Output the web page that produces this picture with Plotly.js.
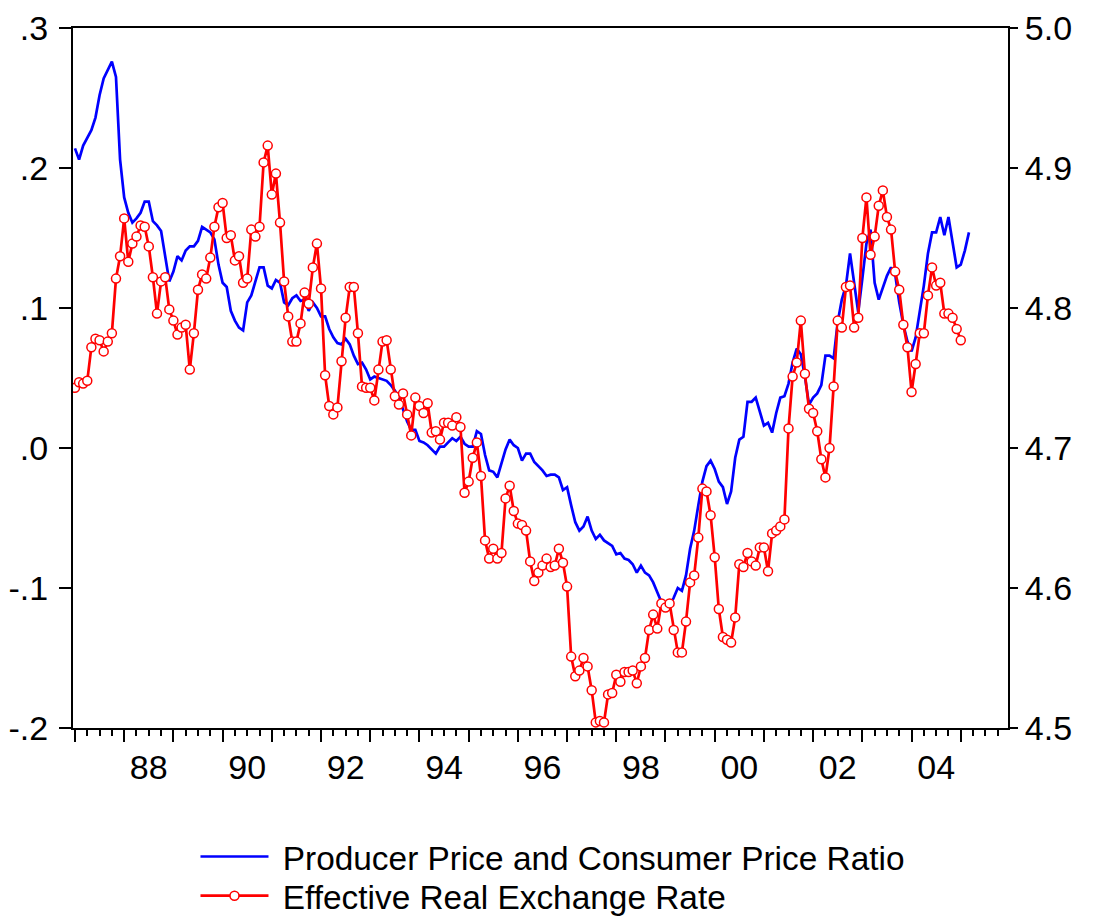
<!DOCTYPE html>
<html>
<head>
<meta charset="utf-8">
<script src="https://cdn.plot.ly/plotly-3.0.1.min.js"></script>
<style>html,body{margin:0;padding:0;background:#fff}#chart{width:1093px;height:918px}</style>
</head>
<body>
<div id="chart"></div>
<script>
// Monthly observations starting January 1987
const startYear = 1987;

// Producer Price and Consumer Price Ratio (left axis)
const ppiCpiRatio = [
  .214,.206,.216,.221,.227,.236,.252,.264,.270,.276,
  .265,.206,.179,.168,.161,.164,.168,.176,.176,.162,
  .159,.155,.137,.119,.126,.137,.134,.141,.144,.144,
  .148,.158,.156,.154,.149,.131,.118,.115,.098,.091,
  .086,.084,.104,.109,.119,.129,.129,.116,.114,.120,
  .118,.104,.102,.107,.109,.105,.106,.098,.104,.100,
  .094,.094,.085,.079,.075,.074,.078,.074,.066,.060,
  .061,.056,.049,.051,.050,.049,.048,.045,.041,.036,
  .027,.019,.013,.013,.005,.004,.002,-.001,-.004,.001,
  .001,.004,.007,.005,.008,.003,.001,.001,.012,.010,
  -.005,-.016,-.017,-.021,-.010,-.001,.006,.002,.000,-.009,
  -.004,-.004,-.010,-.013,-.016,-.020,-.019,-.019,-.021,-.030,
  -.028,-.041,-.053,-.059,-.056,-.049,-.059,-.065,-.062,-.066,
  -.068,-.070,-.076,-.075,-.079,-.080,-.083,-.089,-.084,-.089,
  -.091,-.096,-.103,-.110,-.114,-.113,-.107,-.100,-.102,-.091,
  -.072,-.059,-.041,-.024,-.013,-.009,-.015,-.024,-.028,-.040,
  -.031,-.007,.006,.008,.033,.033,.036,.026,.016,.018,
  .011,.025,.036,.037,.046,.061,.071,.067,.051,.031,
  .036,.039,.045,.066,.066,.064,.090,.106,.116,.139,
  .118,.097,.121,.146,.156,.118,.106,.114,.123,.129,
  .124,.104,.088,.076,.069,.079,.098,.116,.139,.154,
  .154,.165,.152,.165,.147,.129,.131,.141,.154
];

// Effective Real Exchange Rate (right axis)
const realExchangeRate = [
  4.743,4.747,4.746,4.748,4.772,4.778,4.777,4.769,4.776,4.782,
  4.821,4.837,4.864,4.833,4.846,4.851,4.859,4.858,4.844,4.822,
  4.796,4.819,4.822,4.799,4.791,4.781,4.786,4.788,4.756,4.782,
  4.813,4.824,4.821,4.836,4.858,4.872,4.875,4.850,4.852,4.834,
  4.837,4.818,4.821,4.856,4.851,4.858,4.904,4.916,4.881,4.896,
  4.861,4.819,4.794,4.776,4.776,4.789,4.811,4.803,4.829,4.846,
  4.814,4.752,4.730,4.724,4.729,4.762,4.793,4.815,4.815,4.782,
  4.744,4.743,4.743,4.734,4.756,4.776,4.777,4.756,4.737,4.731,
  4.739,4.724,4.709,4.736,4.730,4.725,4.732,4.711,4.712,4.706,
  4.718,4.718,4.716,4.722,4.715,4.668,4.676,4.693,4.704,4.680,
  4.634,4.621,4.628,4.621,4.625,4.664,4.673,4.655,4.646,4.645,
  4.641,4.619,4.605,4.611,4.616,4.621,4.615,4.616,4.628,4.618,
  4.601,4.551,4.537,4.541,4.550,4.544,4.527,4.504,4.505,4.504,
  4.524,4.525,4.538,4.533,4.540,4.540,4.541,4.532,4.544,4.550,
  4.570,4.581,4.571,4.589,4.586,4.589,4.570,4.554,4.554,4.576,
  4.604,4.609,4.636,4.671,4.669,4.652,4.622,4.585,4.565,4.563,
  4.561,4.579,4.617,4.615,4.625,4.619,4.616,4.629,4.629,4.612,
  4.639,4.641,4.644,4.649,4.714,4.751,4.761,4.791,4.753,4.728,
  4.725,4.712,4.692,4.679,4.700,4.744,4.791,4.786,4.815,4.816,
  4.786,4.793,4.850,4.879,4.838,4.851,4.873,4.884,4.865,4.856,
  4.826,4.813,4.788,4.772,4.740,4.760,4.782,4.782,4.809,4.829,
  4.816,4.818,4.796,4.796,4.793,4.785,4.777
];

const seriesNames = ['Producer Price and Consumer Price Ratio', 'Effective Real Exchange Rate'];
const xLabelPositions = [1988.5, 1990.5, 1992.5, 1994.5, 1996.5, 1998.5, 2000.5, 2002.5, 2004.5];
const xLabelText = ['88', '90', '92', '94', '96', '98', '00', '02', '04'];
const leftTickVals = [-0.2, -0.1, 0.0, 0.1, 0.2, 0.3];
const leftTickText = ['-.2', '-.1', '.0', '.1', '.2', '.3'];
const rightTickVals = [4.5, 4.6, 4.7, 4.8, 4.9, 5.0];
const rightTickText = ['4.5', '4.6', '4.7', '4.8', '4.9', '5.0'];

const monthX = n => Array.from({length: n}, (_, i) => startYear + i / 12);

const FONT = 'Liberation Sans, Arial, Helvetica, sans-serif';
const xRange = [1986.96, 2005.96];

const traces = [
  {
    x: monthX(ppiCpiRatio.length), y: ppiCpiRatio,
    type: 'scatter', mode: 'lines', name: '\u00a0' + seriesNames[0],
    line: {color: '#0000ff', width: 2.7},
    xaxis: 'x', yaxis: 'y', legend: 'legend'
  },
  {
    x: monthX(realExchangeRate.length), y: realExchangeRate,
    type: 'scatter', mode: 'lines+markers', name: '\u00a0' + seriesNames[1],
    line: {color: '#ff0000', width: 2.7},
    marker: {symbol: 'circle', size: 9, color: '#ffffff', line: {color: '#ff0000', width: 1.5}},
    xaxis: 'x', yaxis: 'y2', legend: 'legend2'
  }
];

const legendCommon = {
  x: 0.131, xanchor: 'left', yanchor: 'middle',
  font: {family: FONT, size: 33.4, color: '#000000'},
  bgcolor: 'rgba(0,0,0,0)', tracegroupgap: 0, itemwidth: 68
};

const layout = {
  width: 1093, height: 918,
  margin: {l: 73, r: 85, t: 28, b: 190, autoexpand: false},
  paper_bgcolor: '#ffffff', plot_bgcolor: '#ffffff',
  font: {family: FONT, color: '#000000', size: 34},
  showlegend: true,
  legend: Object.assign({}, legendCommon, {y: -0.184}),
  legend2: Object.assign({}, legendCommon, {y: -0.24}),
  xaxis: {
    range: xRange, showgrid: false, zeroline: false,
    showline: true, linecolor: '#000000', linewidth: 2, mirror: true,
    tickmode: 'linear', tick0: 1987, dtick: 1,
    ticks: 'outside', ticklen: 12, tickwidth: 2, tickcolor: '#000000',
    showticklabels: false,
    minor: {tick0: 1987, dtick: 0.25, ticks: 'outside', ticklen: 6, tickwidth: 2, tickcolor: '#000000', showgrid: false}
  },
  xaxis2: {
    overlaying: 'x', anchor: 'y', side: 'bottom',
    range: xRange, showgrid: false, zeroline: false, showline: false,
    tickmode: 'array', tickvals: xLabelPositions, ticktext: xLabelText,
    ticks: '', ticklabelstandoff: 16,
    tickfont: {family: FONT, size: 34, color: '#000000'}
  },
  yaxis: {
    range: [-0.2, 0.3], showgrid: false, zeroline: false,
    showline: true, linecolor: '#000000', linewidth: 2,
    tickmode: 'array', tickvals: leftTickVals, ticktext: leftTickText,
    ticks: 'outside', ticklen: 12, tickwidth: 2, tickcolor: '#000000',
    ticklabelstandoff: 4,
    tickfont: {family: FONT, size: 34, color: '#000000'}
  },
  yaxis2: {
    overlaying: 'y', side: 'right', anchor: 'x',
    range: [4.5, 5.0], showgrid: false, zeroline: false,
    showline: true, linecolor: '#000000', linewidth: 2,
    tickmode: 'array', tickvals: rightTickVals, ticktext: rightTickText,
    ticks: 'outside', ticklen: 8, tickwidth: 2, tickcolor: '#000000',
    tickfont: {family: FONT, size: 34, color: '#000000'}
  }
};

// invisible helper trace so the label axis (xaxis2) is drawn
traces.push({x: [xRange[0]], y: [0], xaxis: 'x2', yaxis: 'y', mode: 'markers',
  marker: {opacity: 0}, showlegend: false, hoverinfo: 'skip', type: 'scatter'});

Plotly.newPlot('chart', traces, layout, {displayModeBar: false, staticPlot: true});
</script>
</body>
</html>
